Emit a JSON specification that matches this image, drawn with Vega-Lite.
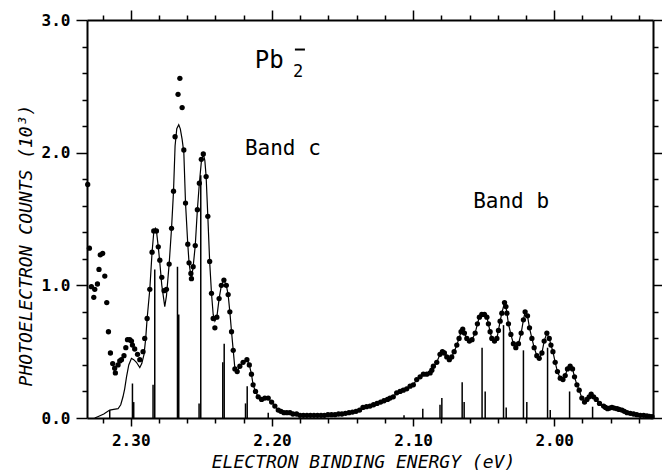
{
"$schema": "https://vega.github.io/schema/vega-lite/v6.json",
"width": 566, "height": 398,
"autosize": {"type": "none"},
"padding": {"left": 87, "top": 20, "right": 9, "bottom": 54},
"background": "white",
"config": {"view": {"stroke": null}, "axis": {"grid": false, "domainColor": "black", "tickColor": "black", "domainWidth": 2, "tickWidth": 1.5, "labelColor": "black", "titleColor": "black"}},
"datasets": {
"obs": [
{"E":2.3305,"y":1.76},{"E":2.3293,"y":1.28},{"E":2.3279,"y":0.99},{"E":2.3262,"y":0.91},{"E":2.3255,"y":0.97},{"E":2.3236,"y":1.01},{"E":2.3225,"y":1.12},{"E":2.3216,"y":1.23},{"E":2.3199,"y":1.24},{"E":2.3184,"y":1.07},{"E":2.3170,"y":0.87},{"E":2.3158,"y":0.65},{"E":2.3144,"y":0.49},{"E":2.3128,"y":0.41},{"E":2.3114,"y":0.375},{"E":2.3109,"y":0.34},{"E":2.3090,"y":0.40},{"E":2.3078,"y":0.43},{"E":2.3066,"y":0.44},{"E":2.3048,"y":0.47},{"E":2.3035,"y":0.53},{"E":2.3023,"y":0.59},{"E":2.3007,"y":0.59},{"E":2.2995,"y":0.58},{"E":2.2988,"y":0.55},{"E":2.2972,"y":0.52},{"E":2.2952,"y":0.48},{"E":2.2936,"y":0.44},{"E":2.2913,"y":0.50},{"E":2.2901,"y":0.60},{"E":2.2884,"y":0.75},{"E":2.2865,"y":0.97},{"E":2.2849,"y":1.25},{"E":2.2837,"y":1.41},{"E":2.2818,"y":1.41},{"E":2.2805,"y":1.29},{"E":2.2794,"y":1.19},{"E":2.2780,"y":1.06},{"E":2.2764,"y":0.96},{"E":2.2747,"y":0.97},{"E":2.2728,"y":1.16},{"E":2.2711,"y":1.43},{"E":2.2697,"y":1.71},{"E":2.2686,"y":2.12},{"E":2.2665,"y":2.44},{"E":2.2652,"y":2.56},{"E":2.2636,"y":2.34},{"E":2.2624,"y":2.02},{"E":2.2612,"y":1.62},{"E":2.2596,"y":1.31},{"E":2.2587,"y":1.17},{"E":2.2574,"y":1.09},{"E":2.2570,"y":1.05},{"E":2.2558,"y":1.14},{"E":2.2543,"y":1.30},{"E":2.2528,"y":1.57},{"E":2.2514,"y":1.77},{"E":2.2500,"y":1.95},{"E":2.2486,"y":1.99},{"E":2.2466,"y":1.82},{"E":2.2454,"y":1.52},{"E":2.2441,"y":1.18},{"E":2.2428,"y":0.94},{"E":2.2416,"y":0.75},{"E":2.2404,"y":0.68},{"E":2.2390,"y":0.76},{"E":2.2374,"y":0.90},{"E":2.2358,"y":1.00},{"E":2.2340,"y":1.04},{"E":2.2323,"y":1.00},{"E":2.2310,"y":0.93},{"E":2.2298,"y":0.80},{"E":2.2286,"y":0.65},{"E":2.2274,"y":0.51},{"E":2.2262,"y":0.37},{"E":2.2246,"y":0.35},{"E":2.2227,"y":0.39},{"E":2.2204,"y":0.42},{"E":2.2177,"y":0.44},{"E":2.2160,"y":0.40},{"E":2.2145,"y":0.33},{"E":2.2133,"y":0.25},{"E":2.2116,"y":0.20},{"E":2.2097,"y":0.16},{"E":2.2073,"y":0.14},{"E":2.2050,"y":0.15},{"E":2.2026,"y":0.15},{"E":2.2002,"y":0.12},{"E":2.1979,"y":0.09},{"E":2.1955,"y":0.06},{"E":2.1936,"y":0.05},{"E":2.1915,"y":0.04},{"E":2.1894,"y":0.04},{"E":2.1872,"y":0.04},{"E":2.1851,"y":0.03},{"E":2.1825,"y":0.03},
{"E":2.1801,"y":0.02},{"E":2.1777,"y":0.02},{"E":2.1752,"y":0.02},{"E":2.1727,"y":0.02},{"E":2.1702,"y":0.02},{"E":2.1677,"y":0.02},{"E":2.1652,"y":0.02},{"E":2.1628,"y":0.02},{"E":2.1603,"y":0.025},{"E":2.1578,"y":0.025},{"E":2.1553,"y":0.025},{"E":2.1528,"y":0.03},{"E":2.1504,"y":0.03},{"E":2.1479,"y":0.035},{"E":2.1454,"y":0.04},{"E":2.1429,"y":0.045},{"E":2.1404,"y":0.05},{"E":2.1379,"y":0.06},{"E":2.1355,"y":0.08},{"E":2.1330,"y":0.085},{"E":2.1305,"y":0.09},{"E":2.1280,"y":0.10},{"E":2.1255,"y":0.11},{"E":2.1230,"y":0.12},{"E":2.1206,"y":0.13},{"E":2.1181,"y":0.14},
{"E":2.1163,"y":0.15},{"E":2.1140,"y":0.16},{"E":2.1116,"y":0.19},{"E":2.1092,"y":0.20},{"E":2.1069,"y":0.21},{"E":2.1045,"y":0.22},{"E":2.1021,"y":0.24},{"E":2.0998,"y":0.25},{"E":2.0974,"y":0.29},{"E":2.0950,"y":0.31},{"E":2.0927,"y":0.33},{"E":2.0903,"y":0.33},{"E":2.0879,"y":0.34},{"E":2.0867,"y":0.36},{"E":2.0856,"y":0.39},{"E":2.0832,"y":0.42},{"E":2.0809,"y":0.48},{"E":2.0792,"y":0.50},{"E":2.0778,"y":0.49},{"E":2.0761,"y":0.46},{"E":2.0743,"y":0.44},{"E":2.0726,"y":0.46},{"E":2.0709,"y":0.50},{"E":2.0690,"y":0.55},{"E":2.0674,"y":0.60},{"E":2.0660,"y":0.65},{"E":2.0648,"y":0.67},{"E":2.0636,"y":0.64},{"E":2.0619,"y":0.60},{"E":2.0601,"y":0.58},{"E":2.0582,"y":0.59},{"E":2.0560,"y":0.64},{"E":2.0544,"y":0.71},{"E":2.0530,"y":0.76},{"E":2.0513,"y":0.78},{"E":2.0494,"y":0.78},{"E":2.0477,"y":0.76},{"E":2.0466,"y":0.71},{"E":2.0454,"y":0.65},{"E":2.0442,"y":0.60},{"E":2.0423,"y":0.58},{"E":2.0406,"y":0.60},{"E":2.0395,"y":0.66},{"E":2.0383,"y":0.73},{"E":2.0371,"y":0.79},{"E":2.0352,"y":0.87},{"E":2.0342,"y":0.84},{"E":2.0335,"y":0.79},{"E":2.0324,"y":0.71},{"E":2.0307,"y":0.63},{"E":2.0289,"y":0.56},{"E":2.0272,"y":0.53},{"E":2.0253,"y":0.56},{"E":2.0234,"y":0.64},{"E":2.0218,"y":0.74},{"E":2.0206,"y":0.80},{"E":2.0189,"y":0.77},{"E":2.0175,"y":0.68},{"E":2.0158,"y":0.60},{"E":2.0142,"y":0.53},{"E":2.0123,"y":0.47},{"E":2.0106,"y":0.45},{"E":2.0087,"y":0.49},{"E":2.0071,"y":0.58},{"E":2.0052,"y":0.64},{"E":2.0035,"y":0.60},{"E":2.0023,"y":0.55},{"E":2.0009,"y":0.50},{"E":1.9993,"y":0.42},{"E":1.9977,"y":0.35},{"E":1.9957,"y":0.30},{"E":1.9938,"y":0.29},{"E":1.9922,"y":0.32},{"E":1.9906,"y":0.37},{"E":1.9887,"y":0.39},{"E":1.9870,"y":0.37},{"E":1.9856,"y":0.31},{"E":1.9839,"y":0.25},{"E":1.9823,"y":0.21},{"E":1.9804,"y":0.15},{"E":1.9785,"y":0.12},{"E":1.9768,"y":0.14},{"E":1.9752,"y":0.16},{"E":1.9738,"y":0.18},{"E":1.9721,"y":0.16},{"E":1.9702,"y":0.14},{"E":1.9679,"y":0.11},{"E":1.9650,"y":0.09},{"E":1.9636,"y":0.08},{"E":1.9622,"y":0.07},{"E":1.9607,"y":0.075},{"E":1.9591,"y":0.08},{"E":1.9575,"y":0.075},{"E":1.9555,"y":0.07},{"E":1.9540,"y":0.065},{"E":1.9520,"y":0.06},{"E":1.9503,"y":0.05},{"E":1.9484,"y":0.04},{"E":1.9461,"y":0.035},{"E":1.9438,"y":0.03},{"E":1.9415,"y":0.025},{"E":1.9390,"y":0.02},{"E":1.9366,"y":0.02},{"E":1.9343,"y":0.015},{"E":1.9326,"y":0.012},{"E":1.9307,"y":0.01}
],
"fitleft": [
{"E":2.3255,"y":0.0},{"E":2.3234,"y":0.01},{"E":2.3191,"y":0.03},{"E":2.3149,"y":0.06},{"E":2.3121,"y":0.065},{"E":2.3090,"y":0.07},{"E":2.3071,"y":0.10},{"E":2.3055,"y":0.16},{"E":2.3043,"y":0.22},{"E":2.3030,"y":0.31},{"E":2.3014,"y":0.40},{"E":2.2995,"y":0.45},{"E":2.2979,"y":0.44},{"E":2.2960,"y":0.42},{"E":2.2936,"y":0.38},{"E":2.2922,"y":0.41},{"E":2.2906,"y":0.48},{"E":2.2894,"y":0.60},{"E":2.2884,"y":0.75},{"E":2.2865,"y":0.97},{"E":2.2849,"y":1.25},{"E":2.2837,"y":1.40},{"E":2.2826,"y":1.43},{"E":2.2818,"y":1.41},{"E":2.2805,"y":1.29},{"E":2.2794,"y":1.17},{"E":2.2780,"y":1.00},{"E":2.2759,"y":0.84},{"E":2.2747,"y":0.92},{"E":2.2728,"y":1.16},{"E":2.2711,"y":1.43},{"E":2.2697,"y":1.71},{"E":2.2686,"y":2.05},{"E":2.2674,"y":2.18},{"E":2.2660,"y":2.21},{"E":2.2649,"y":2.18},{"E":2.2636,"y":2.10},{"E":2.2624,"y":2.00},{"E":2.2612,"y":1.62},{"E":2.2596,"y":1.31},{"E":2.2587,"y":1.17},{"E":2.2574,"y":1.07},{"E":2.2570,"y":1.05},{"E":2.2558,"y":1.14},{"E":2.2543,"y":1.30},{"E":2.2528,"y":1.57},{"E":2.2514,"y":1.77},{"E":2.2500,"y":1.93},{"E":2.2486,"y":1.99},{"E":2.2475,"y":1.94},{"E":2.2466,"y":1.82},{"E":2.2454,"y":1.52},{"E":2.2441,"y":1.18},{"E":2.2428,"y":0.94},{"E":2.2416,"y":0.78},{"E":2.2404,"y":0.73},{"E":2.2390,"y":0.76}
],
"sticks": [
{"E":2.3149,"h":0.06},{"E":2.2988,"h":0.26},{"E":2.2979,"h":0.12},{"E":2.2842,"h":0.25},{"E":2.2830,"h":1.12},{"E":2.2669,"h":1.14},{"E":2.2660,"h":0.78},{"E":2.2516,"h":0.11},{"E":2.2504,"h":1.83},{"E":2.2348,"h":0.42},{"E":2.2338,"h":0.56},{"E":2.2187,"h":0.11},{"E":2.2175,"h":0.24},{"E":2.2026,"h":0.04},{"E":2.1064,"h":0.02},{"E":2.0931,"h":0.07},{"E":2.0809,"h":0.10},{"E":2.0796,"h":0.15},{"E":2.0652,"h":0.27},{"E":2.0638,"h":0.12},{"E":2.0511,"h":0.53},{"E":2.0489,"h":0.20},{"E":2.0359,"h":0.70},{"E":2.0340,"h":0.08},{"E":2.0218,"h":0.51},{"E":2.0194,"h":0.12},{"E":2.0047,"h":0.53},{"E":2.0028,"h":0.06},{"E":1.9891,"h":0.20},{"E":1.9728,"h":0.085}
],
"species": [{"E":2.2121,"y":2.6415,"t":"Pb"}],
"sub": [{"E":2.1851,"y":2.5736,"t":"2"}],
"charge": [{"E1":2.1837,"E2":2.1766,"y":2.7774}],
"bands": [{"E":2.2191,"y":1.9849,"t":"Band c"},{"E":2.0574,"y":1.5849,"t":"Band b"}]
},
"resolve": {"axis": {"x": "independent", "y": "independent"}},
"layer": [
{
"data": {"name": "sticks"},
"mark": {"type": "rule", "color": "black", "strokeWidth": 1.5},
"encoding": {
"x": {"field": "E", "type": "quantitative", "scale": {"domain": [1.93, 2.331], "reverse": true, "nice": false, "zero": false},
"axis": {"orient": "top", "values": [1.94,1.96,1.98,2.0,2.02,2.04,2.06,2.08,2.1,2.12,2.14,2.16,2.18,2.2,2.22,2.24,2.26,2.28,2.3,2.32], "labels": false, "title": null,
"tickSize": {"condition": {"test": "abs(datum.value*10 - round(datum.value*10)) < 0.001", "value": 10}, "value": 5}}},
"y": {"field": "h", "type": "quantitative", "scale": {"domain": [0, 3], "nice": false, "zero": false},
"axis": {"orient": "right", "values": [0,0.2,0.4,0.6,0.8,1,1.2,1.4,1.6,1.8,2,2.2,2.4,2.6,2.8,3], "labels": false, "title": null,
"tickSize": {"condition": {"test": "abs(datum.value - round(datum.value)) < 0.001", "value": 9}, "value": 5}}},
"y2": {"datum": 0}
}
},
{
"data": {"name": "fitleft"},
"mark": {"type": "line", "color": "black", "strokeWidth": 1.2},
"encoding": {
"x": {"field": "E", "type": "quantitative", "scale": {"domain": [1.93, 2.331], "reverse": true, "nice": false, "zero": false}, "axis": null},
"y": {"field": "y", "type": "quantitative", "scale": {"domain": [0, 3], "nice": false, "zero": false}, "axis": null},
"order": {"field": "E", "sort": "descending"}
}
},
{
"data": {"name": "obs"},
"transform": [{"filter": "datum.E <= 2.2391"}],
"mark": {"type": "line", "color": "black", "strokeWidth": 1.2},
"encoding": {
"x": {"field": "E", "type": "quantitative", "scale": {"domain": [1.93, 2.331], "reverse": true, "nice": false, "zero": false}, "axis": null},
"y": {"field": "y", "type": "quantitative", "scale": {"domain": [0, 3], "nice": false, "zero": false}, "axis": null},
"order": {"field": "E", "sort": "descending"}
}
},
{
"data": {"name": "obs"},
"mark": {"type": "circle", "color": "black", "size": 28, "opacity": 1},
"encoding": {
"x": {"field": "E", "type": "quantitative", "scale": {"domain": [1.93, 2.331], "reverse": true, "nice": false, "zero": false},
"axis": {"orient": "bottom", "values": [1.94,1.96,1.98,2.0,2.02,2.04,2.06,2.08,2.1,2.12,2.14,2.16,2.18,2.2,2.22,2.24,2.26,2.28,2.3,2.32],
"labelExpr": "abs(datum.value*10 - round(datum.value*10)) < 0.001 ? format(datum.value, '.2f') : ''",
"tickSize": {"condition": {"test": "abs(datum.value*10 - round(datum.value*10)) < 0.001", "value": 8}, "value": 5},
"labelFont": "DejaVu Sans Mono", "labelFontSize": 16, "labelFontWeight": "bold", "labelPadding": 6, "labelOverlap": false, "labelFlush": false,
"title": "ELECTRON BINDING ENERGY (eV)", "titleFont": "DejaVu Sans Mono", "titleFontSize": 18, "titleFontStyle": "italic", "titleFontWeight": "normal",
"titleX": 276, "titleY": 49, "titleBaseline": "alphabetic", "titleAlign": "center"}},
"y": {"field": "y", "type": "quantitative", "scale": {"domain": [0, 3], "nice": false, "zero": false},
"axis": {"orient": "left", "values": [0,0.2,0.4,0.6,0.8,1,1.2,1.4,1.6,1.8,2,2.2,2.4,2.6,2.8,3],
"labelExpr": "abs(datum.value - round(datum.value)) < 0.001 ? format(datum.value, '.1f') : ''",
"tickSize": {"condition": {"test": "abs(datum.value - round(datum.value)) < 0.001", "value": 11}, "value": 5},
"labelFont": "DejaVu Sans Mono", "labelFontSize": 16, "labelFontWeight": "bold", "labelPadding": 6, "labelOverlap": false, "labelFlush": false,
"title": "PHOTOELECTRON COUNTS (10³)", "titleFont": "DejaVu Sans Mono", "titleFontSize": 18, "titleFontStyle": "italic", "titleFontWeight": "normal",
"titleX": -56, "titleY": 225, "titleBaseline": "alphabetic", "titleAlign": "center", "titleAngle": -90}}
}
},
{
"data": {"name": "species"},
"mark": {"type": "text", "font": "DejaVu Sans Mono", "fontSize": 24, "align": "left", "baseline": "alphabetic", "color": "black"},
"encoding": {
"x": {"field": "E", "type": "quantitative", "scale": {"domain": [1.93, 2.331], "reverse": true, "nice": false, "zero": false}, "axis": null},
"y": {"field": "y", "type": "quantitative", "scale": {"domain": [0, 3], "nice": false, "zero": false}, "axis": null},
"text": {"field": "t"}
}
},
{
"data": {"name": "sub"},
"mark": {"type": "text", "font": "DejaVu Sans Mono", "fontSize": 17, "align": "left", "baseline": "alphabetic", "color": "black"},
"encoding": {
"x": {"field": "E", "type": "quantitative", "scale": {"domain": [1.93, 2.331], "reverse": true, "nice": false, "zero": false}, "axis": null},
"y": {"field": "y", "type": "quantitative", "scale": {"domain": [0, 3], "nice": false, "zero": false}, "axis": null},
"text": {"field": "t"}
}
},
{
"data": {"name": "charge"},
"mark": {"type": "rule", "color": "black", "strokeWidth": 2},
"encoding": {
"x": {"field": "E1", "type": "quantitative", "scale": {"domain": [1.93, 2.331], "reverse": true, "nice": false, "zero": false}, "axis": null},
"x2": {"field": "E2"},
"y": {"field": "y", "type": "quantitative", "scale": {"domain": [0, 3], "nice": false, "zero": false}, "axis": null}
}
},
{
"data": {"name": "bands"},
"mark": {"type": "text", "font": "DejaVu Sans Mono", "fontSize": 21, "align": "left", "baseline": "alphabetic", "color": "black"},
"encoding": {
"x": {"field": "E", "type": "quantitative", "scale": {"domain": [1.93, 2.331], "reverse": true, "nice": false, "zero": false}, "axis": null},
"y": {"field": "y", "type": "quantitative", "scale": {"domain": [0, 3], "nice": false, "zero": false}, "axis": null},
"text": {"field": "t"}
}
}
]
}
